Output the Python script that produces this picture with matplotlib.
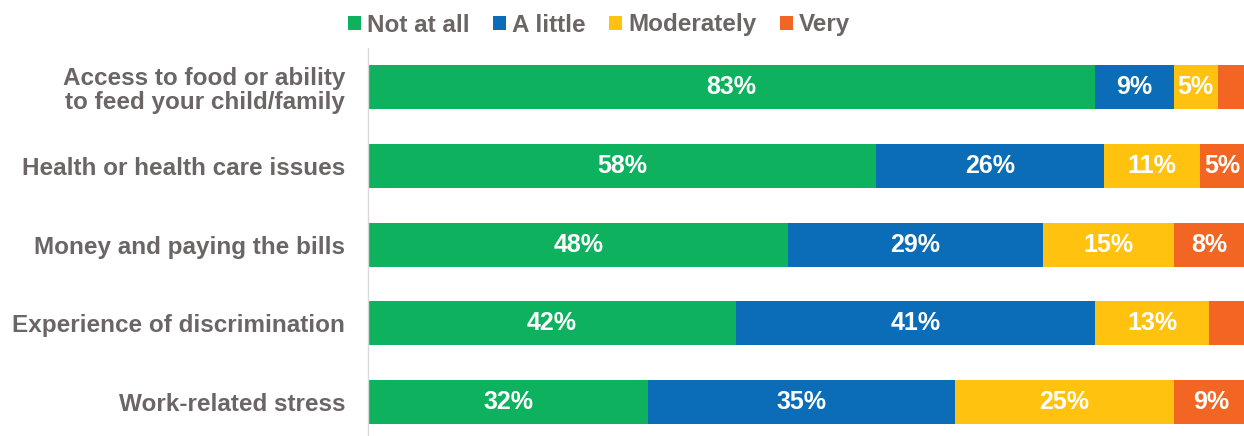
import matplotlib
matplotlib.use("Agg")
import matplotlib.pyplot as plt
import numpy as np

plt.rcParams["font.family"] = ["Liberation Sans", "DejaVu Sans"]
plt.rcParams["font.weight"] = "bold"

categories = [
    "Access to food or ability\nto feed your child/family",
    "Health or health care issues",
    "Money and paying the bills",
    "Experience of discrimination",
    "Work-related stress",
]
series_names = ["Not at all", "A little", "Moderately", "Very"]
not_at_all = [83, 58, 48, 42, 32]
a_little = [9, 26, 29, 41, 35]
moderately = [5, 11, 15, 13, 25]
very = [3, 5, 8, 4, 8.6]
# segments too small get no label in the original
show_label = [
    [True, True, True, False],
    [True, True, True, True],
    [True, True, True, True],
    [True, True, True, False],
    [True, True, True, True],
]

colors = ["#0EB25E", "#0B6DB7", "#FFC20F", "#F26522"]
text_grey = "#6B6566"

fig = plt.figure(figsize=(12.44, 4.36), dpi=100)
ax = fig.add_axes([368 / 1244, 0, 876 / 1244, 1 - 48 / 436])

y = np.arange(len(categories))
left = np.zeros(len(categories))
for i, vals in enumerate([not_at_all, a_little, moderately, very]):
    vals = np.array(vals, dtype=float)
    bars = ax.barh(y, vals, left=left, height=0.56, color=colors[i],
                   label=series_names[i], edgecolor="none")
    for j, b in enumerate(bars):
        if show_label[j][i]:
            ax.text(left[j] + vals[j] / 2, y[j], f"{round(vals[j])}%",
                    ha="center", va="center", color="white",
                    fontsize=18, fontweight="bold")
    left += vals

ax.set_xlim(0, 100)
ax.set_ylim(4 + (436 - 402) / 78.5, -0.5)
ax.set_yticks(y)
ax.set_yticklabels(categories, fontsize=17.5, color=text_grey,
                   fontweight="bold", linespacing=1.05)
ax.tick_params(axis="y", length=0, pad=16.5)
ax.set_xticks([])
for s in ["top", "right", "bottom"]:
    ax.spines[s].set_visible(False)
ax.spines["left"].set_color("#D9D9D9")
ax.spines["left"].set_linewidth(1.0)

leg = fig.legend(loc="center", bbox_to_anchor=(599 / 1244, 1 - 25 / 436),
                 ncol=4, frameon=False, fontsize=17.5, handlelength=0.55,
                 handleheight=0.55, handletextpad=0.25, columnspacing=0.95,
                 borderpad=0.2)
for t in leg.get_texts():
    t.set_color(text_grey)
    t.set_fontweight("bold")

fig.savefig("out.png", dpi=100)
